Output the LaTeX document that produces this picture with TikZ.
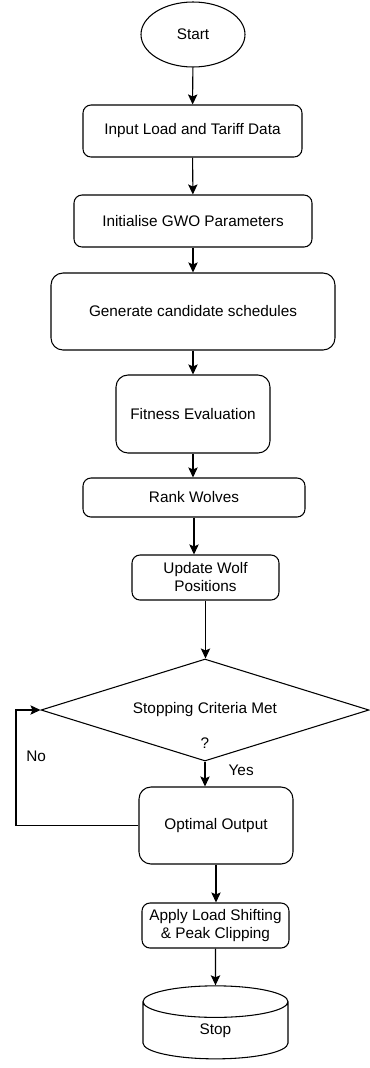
\documentclass[tikz,border=0pt]{standalone}
\usepackage{fontspec}
\setmainfont{Liberation Sans}
\usetikzlibrary{shapes.geometric,arrows.meta}
\begin{document}
\begin{tikzpicture}[x=0.75pt,y=-0.75pt,line width=0.8pt,
  >={Stealth[length=7.5pt,width=7pt,inset=1.5pt]},
  every node/.style={font=\fontsize{11.5}{13.5}\selectfont},
  box/.style={draw,rounded corners=6pt,align=center,inner sep=2pt},
  tall/.style={box,rounded corners=9pt}]
  \useasboundingbox (0,0) rectangle (369,1068);
  \node[draw,ellipse,minimum width=78pt,minimum height=48.75pt,inner sep=0pt] (start) at (193,34.5) {Start};
  \node[box,minimum width=164.25pt,minimum height=39pt] (input) at (192.5,131) {Input Load and Tariff Data};
  \node[box,minimum width=178.5pt,minimum height=39pt] (init) at (193,221) {Initialise GWO Parameters};
  \node[tall,minimum width=213pt,minimum height=57.75pt] (gen) at (193,311.5) {Generate candidate schedules};
  \node[tall,minimum width=115.5pt,minimum height=58.5pt] (fit) at (193,414) {Fitness Evaluation};
  \node[box,minimum width=166.5pt,minimum height=29.25pt] (rank) at (194,497.5) {Rank Wolves};
  \node[box,minimum width=110.25pt,minimum height=33.75pt] (upd) at (205.5,577.5) {Update Wolf\\Positions};
  \node[draw,diamond,shape aspect=3.2,minimum width=246pt,minimum height=76.5pt,inner sep=0pt,
    label={[yshift=-24.5pt]center:?}] (stopq) at (205,710) {Stopping Criteria Met};
  \node[tall,minimum width=115.5pt,minimum height=57.75pt] (opt) at (216,825.5) {Optimal Output};
  \node[box,minimum width=110.25pt,minimum height=33.75pt] (apply) at (215.5,925.5) {Apply Load Shifting\\\& Peak Clipping};
  \node[draw,cylinder,shape border rotate=90,aspect=1,minimum width=108.75pt,minimum height=54.75pt,inner sep=0pt] (stop) at (215.5,1030.5) {Stop};
  \coordinate (loop) at (16,0);

  \draw[->] (start)--(input);
  \draw[->] (input)--(init);
  \draw[->] (init)--(gen);
  \draw[->] (gen)--(fit);
  \draw[->] (fit.south)--(fit.south |- rank.north);
  \draw[->] (rank.south)--(rank.south |- upd.north);
  \draw[->] (upd.south)--(upd.south |- stopq.north);
  \draw[->] (stopq.south)--(stopq.south |- opt.north) node[midway,right,xshift=14pt,yshift=3pt] {Yes};
  \draw[->] (opt.west)--(opt.west -| loop) |- (stopq.west) node[pos=0.3,right,xshift=4pt] {No};
  \draw[->] (opt.south)--(opt.south |- apply.north);
  \draw[->] (apply)--(stop);
\end{tikzpicture}
\end{document}
